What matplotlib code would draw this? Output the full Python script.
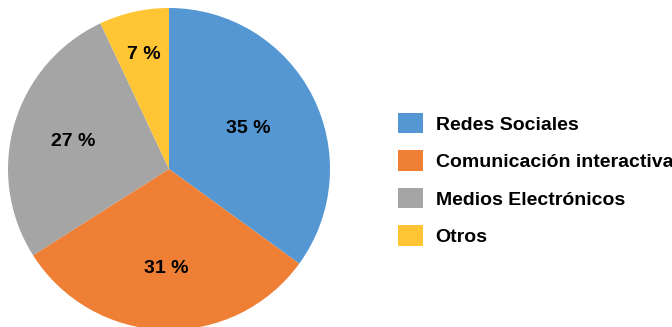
import numpy as np
import matplotlib.pyplot as plt
from matplotlib.patches import Patch

labels = ['Redes Sociales', 'Comunicación interactiva', 'Medios Electrónicos', 'Otros']
shares = [35, 31, 27, 7]
colors = ['#5597D3', '#EE7F34', '#A5A5A5', '#FFC535']
# how far out each percentage sits, as a fraction of the radius
label_dist = [0.55, 0.62, 0.62, 0.73]

plt.rcParams['font.family'] = ['Liberation Sans', 'DejaVu Sans']

fig = plt.figure(figsize=(6.72, 3.27), dpi=100)
ax = fig.add_axes([0, 0, 1, 1])

cx, cy, r = 169, 158, 161
wedges, texts, autotexts = ax.pie(
    shares, colors=colors, startangle=90, counterclock=False,
    center=(cx, cy), radius=r, autopct=lambda p: '%d %%' % round(p),
    textprops={'fontsize': 14, 'fontweight': 'bold'})
for w, t, d in zip(wedges, autotexts, label_dist):
    ang = np.deg2rad((w.theta1 + w.theta2) / 2)
    t.set_position((cx + d * r * np.cos(ang), cy + d * r * np.sin(ang)))

ax.set_xlim(0, 672)
ax.set_ylim(0, 327)
ax.set_aspect('equal')
ax.axis('off')

handles = [Patch(facecolor=c, edgecolor='none') for c in colors]
fig.legend(handles, labels, loc='upper left',
           bbox_to_anchor=(398 / 672, 1 - 113 / 327),
           frameon=False, borderpad=0, borderaxespad=0,
           handlelength=1.29, handleheight=1.24, handletextpad=0.65,
           labelspacing=0.86, prop={'size': 14, 'weight': 'bold'})

fig.savefig('out.png', dpi=100)
